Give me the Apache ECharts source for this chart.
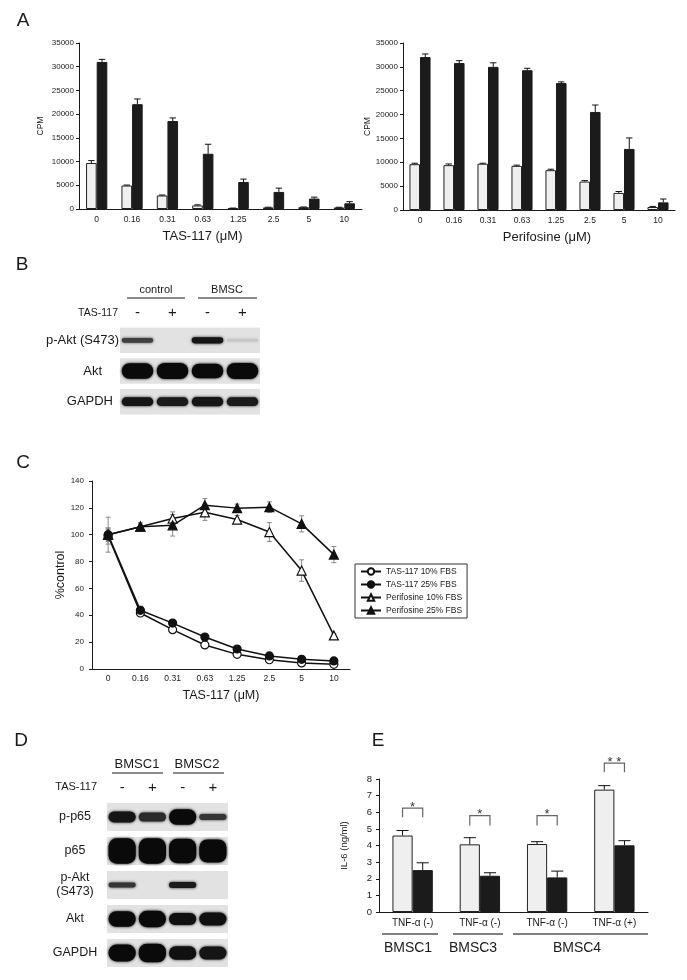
<!DOCTYPE html>
<html>
<head>
<meta charset="utf-8">
<title>TAS-117 figure</title>
<script src="https://cdn.jsdelivr.net/npm/echarts@6.0.0/dist/echarts.min.js"></script>
<style>
  html, body { margin: 0; padding: 0; background: #fff; }
  #chart { width: 687px; height: 980px; }
</style>
</head>
<body>
<div id="chart"></div>
<script>
const FONT = '"Liberation Sans", Arial, sans-serif';
const INK = '#1a1a1a';

// --- panel A: thymidine uptake (CPM) ---
const doses = ['0', '0.16', '0.31', '0.63', '1.25', '2.5', '5', '10'];
const tasCtrl = [9700, 4950, 2850, 750, 150, 330, 380, 320];
const tasCtrlErr = [500, 100, 100, 130, 50, 50, 50, 50];
const tasBmsc = [31000, 22100, 18550, 11650, 5700, 3600, 2200, 1200];
const tasBmscErr = [550, 1100, 650, 2000, 600, 800, 300, 350];
const periCtrl = [9600, 9400, 9700, 9250, 8350, 5960, 3580, 630];
const periCtrlErr = [200, 250, 100, 150, 200, 200, 300, 120];
const periBmsc = [32050, 30800, 30000, 29300, 26600, 20550, 12800, 1600];
const periBmscErr = [650, 500, 850, 400, 250, 1450, 2300, 700];

// --- panel B: blot (band density 0..1, band thickness as share of row) ---
const blotBLanes = ['-', '+', '-', '+'];
const blotBRows = ['p-Akt (S473)', 'Akt', 'GAPDH'];
const blotBDensity = [[0.75, 0, 0.95, 0.12], [1, 1, 1, 1], [0.95, 0.92, 0.95, 0.92]];
const blotBThickness = [[0.15, 0, 0.2, 0.1], [0.5, 0.52, 0.48, 0.52], [0.28, 0.28, 0.3, 0.28]];

// --- panel C: % control ---
const tas10 = [99, 41.7, 29.3, 17.9, 10.9, 6.9, 4.5, 3.5];
const tas10Err = [6, 2, 1.5, 1, 1, 0.8, 0.5, 0.5];
const tas25 = [100, 43.7, 34.2, 23.8, 14.9, 9.7, 7.2, 6.0];
const tas25Err = [4, 3, 1.5, 1, 1, 0.8, 0.5, 0.5];
const peri10 = [100, 106, 112, 116.7, 111.3, 102, 73.3, 25];
const peri10Err = [13, 2, 5, 6, 3, 7, 8, 1.5];
const peri25 = [100, 106, 107, 122, 119.8, 120.5, 108.1, 85.2];
const peri25Err = [5, 3, 8, 5, 3, 4, 6, 6];
const curveNames = ['TAS-117 10% FBS', 'TAS-117 25% FBS', 'Perifosine 10% FBS', 'Perifosine 25% FBS'];

// --- panel D: blot ---
const blotDLanes = ['-', '+', '-', '+'];
const blotDRows = ['p-p65', 'p65', 'p-Akt\n(S473)', 'Akt', 'GAPDH'];
const blotDDensity = [[0.95, 0.85, 1, 0.8], [1, 1, 1, 1], [0.8, 0, 0.92, 0], [1, 1, 0.97, 0.97], [1, 1, 0.97, 0.95]];
const blotDThickness = [[0.32, 0.26, 0.45, 0.18], [0.75, 0.75, 0.72, 0.68], [0.14, 0, 0.18, 0], [0.45, 0.48, 0.36, 0.38], [0.5, 0.55, 0.4, 0.38]];

// --- panel E: IL-6 ---
const il6Groups = ['TNF-α (-)', 'TNF-α (-)', 'TNF-α (-)', 'TNF-α (+)'];
const il6Ctrl = [4.6, 4.07, 4.09, 7.36];
const il6CtrlErr = [0.3, 0.4, 0.14, 0.24];
const il6Tas = [2.52, 2.18, 2.08, 4.01];
const il6TasErr = [0.44, 0.18, 0.38, 0.28];
const il6Sig = ['*', '*', '*', '* *'];
const il6SigTop = [6.25, 5.8, 5.8, 8.95];
const il6SigFoot = [5.7, 5.2, 5.2, 8.4];
const il6Cells = ['BMSC1', 'BMSC3', 'BMSC4'];

const chart = echarts.init(document.getElementById('chart'));

const axisLine = { lineStyle: { color: INK, width: 1 } };

function catAxis(gridIndex, data, labelSize, margin) {
  return {
    type: 'category', gridIndex, data,
    axisLine,
    axisTick: { inside: true, length: 3, lineStyle: { color: INK } },
    axisLabel: { interval: 0, fontSize: labelSize, margin, color: INK, fontFamily: FONT },
    splitLine: { show: false }
  };
}

function valAxis(gridIndex, max, interval, name, nameGap, nameSize, labelSize, margin) {
  return {
    type: 'value', gridIndex, min: 0, max, interval,
    name, nameLocation: 'middle', nameGap,
    nameTextStyle: { fontSize: nameSize, color: INK, fontFamily: FONT },
    axisLine: { show: true, lineStyle: { color: INK, width: 1 } },
    axisTick: { show: true, length: 3, lineStyle: { color: INK } },
    axisLabel: { fontSize: labelSize, margin, color: INK, fontFamily: FONT, formatter: v => String(v) },
    splitLine: { show: false }
  };
}

function blotAxes(gridIndex, lanes, rows, labelOpts) {
  return [
    {
      type: 'category', gridIndex, data: lanes, position: 'top',
      axisLine: { show: false }, axisTick: { show: false }, splitLine: { show: false },
      axisLabel: { interval: 0, fontSize: 15, margin: 5, color: INK, fontFamily: FONT }
    },
    {
      type: 'category', gridIndex, data: rows, inverse: true,
      axisLine: { show: false }, axisTick: { show: false }, splitLine: { show: false },
      axisLabel: Object.assign({ interval: 0, color: INK, fontFamily: FONT }, labelOpts)
    }
  ];
}

// bar + error bar helpers
function bar(axis, values, light, gap) {
  return {
    type: 'bar', xAxisIndex: axis, yAxisIndex: axis, data: values,
    barGap: '0%', barCategoryGap: gap + '%',
    itemStyle: light
      ? { color: '#efefef', borderColor: '#222', borderWidth: 1 }
      : { color: '#1b1b1b', borderColor: '#1b1b1b', borderWidth: 1 }
  };
}

function barErrors(axis, values, errs, side, gap) {
  return {
    type: 'custom', xAxisIndex: axis, yAxisIndex: axis, z: 3, silent: true,
    data: values.map((v, i) => [i, v, errs[i]]),
    renderItem: (params, api) => {
      const band = api.size([1, 0])[0];
      const bw = band * (1 - gap / 100) / 2;
      const x = api.coord([api.value(0), 0])[0] + side * bw / 2;
      const yBase = api.coord([0, api.value(1)])[1];
      const yTop = api.coord([0, api.value(1) + api.value(2)])[1];
      const c = bw * 0.3;
      const st = { stroke: '#111', lineWidth: 1 };
      return {
        type: 'group', children: [
          { type: 'line', shape: { x1: x, y1: yBase, x2: x, y2: yTop }, style: st },
          { type: 'line', shape: { x1: x - c, y1: yTop, x2: x + c, y2: yTop }, style: st }
        ]
      };
    }
  };
}

function pointErrors(values, errs) {
  return {
    type: 'custom', xAxisIndex: 3, yAxisIndex: 3, z: 1, silent: true,
    data: values.map((v, i) => [i, v, errs[i]]),
    renderItem: (params, api) => {
      const x = api.coord([api.value(0), 0])[0];
      const y1 = api.coord([0, api.value(1) - api.value(2)])[1];
      const y2 = api.coord([0, api.value(1) + api.value(2)])[1];
      const st = { stroke: '#8a8a8a', lineWidth: 1 };
      return {
        type: 'group', children: [
          { type: 'line', shape: { x1: x, y1: y1, x2: x, y2: y2 }, style: st },
          { type: 'line', shape: { x1: x - 2.5, y1: y1, x2: x + 2.5, y2: y1 }, style: st },
          { type: 'line', shape: { x1: x - 2.5, y1: y2, x2: x + 2.5, y2: y2 }, style: st }
        ]
      };
    }
  };
}

function curve(name, values, symbol, filled) {
  return {
    name, type: 'line', xAxisIndex: 3, yAxisIndex: 3, data: values, z: 4,
    symbol, symbolSize: symbol === 'triangle' ? 9 : 8, showAllSymbol: true,
    lineStyle: { color: '#111', width: 1.5 },
    itemStyle: { color: filled ? '#111' : '#fff', borderColor: '#111', borderWidth: 1.2 }
  };
}

// western blot helpers
function blotBackground(axis, rows) {
  return {
    type: 'custom', xAxisIndex: axis, yAxisIndex: axis, z: 1, silent: true,
    data: rows.map((r, i) => [0, i]),
    renderItem: (params, api) => {
      const cs = params.coordSys;
      const y = api.coord([0, api.value(1)])[1];
      const h = api.size([0, 1])[1];
      const inset = h * 0.085;
      return {
        type: 'rect',
        shape: { x: cs.x, y: y - h / 2 + inset, width: cs.width, height: h - 2 * inset },
        style: { fill: '#e2e2e2' }
      };
    }
  };
}

function blotBands(axis, density, thickness) {
  const data = [];
  density.forEach((row, r) => row.forEach((d, l) => data.push([l, r, d, thickness[r][l]])));
  return {
    type: 'custom', xAxisIndex: axis, yAxisIndex: axis, z: 2, silent: true, data,
    renderItem: (params, api) => {
      const d = api.value(2);
      if (!d) return null;
      const p = api.coord([api.value(0), api.value(1)]);
      const w = api.size([1, 0])[0] * 0.9;
      const h = api.size([0, 1])[1] * api.value(3);
      const g = Math.round(225 - 215 * d);
      const col = 'rgb(' + g + ',' + g + ',' + g + ')';
      return {
        type: 'rect',
        shape: { x: p[0] - w / 2, y: p[1] - h / 2, width: w, height: h, r: Math.min(h / 2, w * 0.3) },
        style: { fill: col, shadowBlur: 3, shadowColor: col }
      };
    }
  };
}

function sigBrackets() {
  return {
    type: 'custom', xAxisIndex: 5, yAxisIndex: 5, z: 5, silent: true, clip: false,
    data: il6Sig.map((s, i) => [i, il6SigTop[i], il6SigFoot[i]]),
    renderItem: (params, api) => {
      const i = api.value(0);
      const bw = api.size([1, 0])[0] * 0.6 / 2;
      const cx = api.coord([i, 0])[0];
      const yTop = api.coord([0, api.value(1)])[1];
      const yFoot = api.coord([0, api.value(2)])[1];
      const x1 = cx - bw / 2, x2 = cx + bw / 2;
      return {
        type: 'group', children: [
          {
            type: 'polyline',
            shape: { points: [[x1, yFoot], [x1, yTop], [x2, yTop], [x2, yFoot]] },
            style: { stroke: '#666', lineWidth: 1.2, fill: 'none' }
          },
          {
            type: 'text', x: cx, y: yTop - 1,
            style: {
              text: il6Sig[params.dataIndex], font: '13px ' + FONT, fill: '#333',
              textAlign: 'center', textVerticalAlign: 'middle', align: 'center', verticalAlign: 'middle'
            }
          }
        ]
      };
    }
  };
}

// plain annotation text and rules
function txt(x, y, text, size, align) {
  const a = align || 'center';
  return {
    type: 'text', x, y, silent: true,
    style: {
      text, font: size + 'px ' + FONT, fill: INK,
      textAlign: a, align: a, textVerticalAlign: 'middle', verticalAlign: 'middle'
    }
  };
}
function rule(x1, x2, y, color, width) {
  return {
    type: 'line', silent: true,
    shape: { x1, y1: y, x2, y2: y },
    style: { stroke: color || INK, lineWidth: width || 1 }
  };
}

const blotBAx = blotAxes(2, blotBLanes, blotBRows, {
  align: 'right', margin: 1,
  formatter: (v, i) => '{r' + i + '|' + v + '}',
  rich: {
    r0: { fontSize: 13, color: INK, fontFamily: FONT },
    r1: { fontSize: 13, color: INK, fontFamily: FONT, padding: [0, 17, 0, 0] },
    r2: { fontSize: 13, color: INK, fontFamily: FONT, padding: [0, 6, 0, 0] }
  }
});
const blotDAx = blotAxes(4, blotDLanes, blotDRows, {
  align: 'center', margin: 32, fontSize: 12.5, lineHeight: 14
});

const option = {
  animation: false,
  backgroundColor: '#fff',
  textStyle: { fontFamily: FONT },
  grid: [
    { left: 79, top: 43, width: 283, height: 166 },
    { left: 403, top: 43, width: 272, height: 167 },
    { left: 120, top: 325, width: 140, height: 92 },
    { left: 92, top: 481, width: 258, height: 188 },
    { left: 107, top: 800, width: 121, height: 170 },
    { left: 379, top: 779, width: 269, height: 133 }
  ],
  xAxis: [
    Object.assign(catAxis(0, doses, 8.5, 6), {
      name: 'TAS-117 (μM)', nameLocation: 'middle', nameGap: 21,
      nameTextStyle: { fontSize: 13, color: INK, fontFamily: FONT, padding: [0, 36, 0, 0] }
    }),
    Object.assign(catAxis(1, doses, 8.5, 6), {
      name: 'Perifosine (μM)', nameLocation: 'middle', nameGap: 21,
      nameTextStyle: { fontSize: 13, color: INK, fontFamily: FONT, padding: [0, 0, 0, 16] }
    }),
    blotBAx[0],
    Object.assign(catAxis(3, doses, 8.5, 5), {
      name: 'TAS-117 (μM)', nameLocation: 'middle', nameGap: 20,
      nameTextStyle: { fontSize: 12.5, color: INK, fontFamily: FONT }
    }),
    blotDAx[0],
    catAxis(5, il6Groups, 10, 6)
  ],
  yAxis: [
    valAxis(0, 35000, 5000, 'CPM', 34, 8.5, 8, 5),
    valAxis(1, 35000, 5000, 'CPM', 31, 8.5, 8, 5),
    blotBAx[1],
    valAxis(3, 140, 20, '%control', 25, 12.5, 8, 8),
    blotDAx[1],
    valAxis(5, 8, 1, 'IL-6 (ng/ml)', 30, 9.5, 9.5, 7)
  ],
  legend: {
    data: curveNames,
    orient: 'vertical', left: 355, top: 564,
    itemWidth: 20, itemHeight: 8, itemGap: 4,
    padding: [3, 5, 3, 5],
    borderColor: '#333', borderWidth: 1, backgroundColor: '#fff',
    textStyle: { fontSize: 8.5, color: INK, fontFamily: FONT }
  },
  graphic: [
    txt(23, 21, 'A', 19), txt(22, 265, 'B', 19), txt(23, 463, 'C', 19),
    txt(21, 741, 'D', 19), txt(378, 741, 'E', 19),
    // B header
    txt(156, 290, 'control', 11), txt(227, 290, 'BMSC', 11),
    rule(127, 185, 298), rule(198, 257, 298),
    txt(118, 313, 'TAS-117', 10.5, 'right'),
    // D header
    txt(137, 764, 'BMSC1', 13), txt(197, 764, 'BMSC2', 13),
    rule(112, 163, 773), rule(173, 224, 773),
    txt(97, 787, 'TAS-117', 11, 'right'),
    // E cell groups
    rule(382, 438, 934, '#555', 1.5), rule(453, 503, 934, '#555', 1.5), rule(513, 648, 934, '#555', 1.5),
    txt(408, 948, il6Cells[0], 14), txt(473, 948, il6Cells[1], 14), txt(577, 948, il6Cells[2], 14)
  ],
  series: [
    // A
    bar(0, tasCtrl, true, 40), bar(0, tasBmsc, false, 40),
    barErrors(0, tasCtrl, tasCtrlErr, -1, 40), barErrors(0, tasBmsc, tasBmscErr, 1, 40),
    bar(1, periCtrl, true, 38), bar(1, periBmsc, false, 38),
    barErrors(1, periCtrl, periCtrlErr, -1, 38), barErrors(1, periBmsc, periBmscErr, 1, 38),
    // B
    blotBackground(2, blotBRows), blotBands(2, blotBDensity, blotBThickness),
    // C
    pointErrors(tas10, tas10Err), pointErrors(tas25, tas25Err),
    pointErrors(peri10, peri10Err), pointErrors(peri25, peri25Err),
    curve(curveNames[0], tas10, 'circle', false),
    curve(curveNames[1], tas25, 'circle', true),
    curve(curveNames[2], peri10, 'triangle', false),
    curve(curveNames[3], peri25, 'triangle', true),
    // D
    blotBackground(4, blotDRows), blotBands(4, blotDDensity, blotDThickness),
    // E
    bar(5, il6Ctrl, true, 40), bar(5, il6Tas, false, 40),
    barErrors(5, il6Ctrl, il6CtrlErr, -1, 40), barErrors(5, il6Tas, il6TasErr, 1, 40),
    sigBrackets()
  ]
};

chart.setOption(option);
</script>
</body>
</html>
